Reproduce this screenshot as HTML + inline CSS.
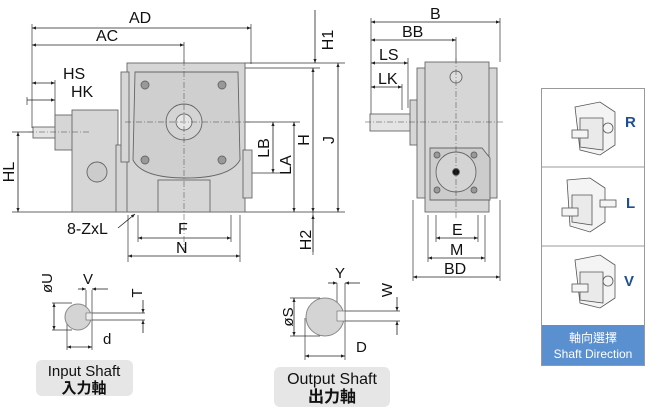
<!DOCTYPE html>
<html><head><meta charset="utf-8">
<style>
html,body{margin:0;padding:0;background:#fff;}
svg{display:block;}
text{font-family:"Liberation Sans","Noto Sans CJK TC",sans-serif;fill:#111;}
</style></head>
<body>
<svg width="660" height="417" viewBox="0 0 660 417" xmlns="http://www.w3.org/2000/svg">
<defs>
<marker id="a" viewBox="0 0 10 10" refX="10" refY="5" markerWidth="7" markerHeight="5" orient="auto-start-reverse"><path d="M0,1 L10,5 L0,9z" fill="#222"/></marker>
</defs>
<g stroke="#333" stroke-width="0.7" fill="none">
<line x1="32" y1="24" x2="32" y2="128"/>
<line x1="251" y1="24" x2="251" y2="64"/>
<line x1="184" y1="42" x2="184" y2="64"/>
<line x1="55" y1="80" x2="55" y2="126"/>
<line x1="27" y1="97" x2="27" y2="105"/>
<line x1="245" y1="63" x2="345" y2="63"/>
<line x1="245" y1="68" x2="320" y2="68"/>
<line x1="12" y1="212" x2="345" y2="212"/>
<line x1="12" y1="132" x2="35" y2="132"/>
<line x1="245" y1="122" x2="300" y2="122"/>
<line x1="245" y1="173" x2="280" y2="173"/>
<line x1="128" y1="215" x2="128" y2="262"/>
<line x1="138" y1="215" x2="138" y2="242"/>
<line x1="231" y1="215" x2="231" y2="242"/>
<line x1="240" y1="215" x2="240" y2="262"/>
<line x1="313" y1="212" x2="313" y2="255"/>
</g>
<g stroke="#222" stroke-width="0.8" fill="none">
<line x1="32" y1="28" x2="251" y2="28" marker-start="url(#a)" marker-end="url(#a)"/>
<line x1="32" y1="45" x2="184" y2="45" marker-start="url(#a)" marker-end="url(#a)"/>
<line x1="32" y1="83" x2="55" y2="83" marker-start="url(#a)" marker-end="url(#a)"/>
<line x1="27" y1="100" x2="55" y2="100" marker-end="url(#a)"/>
<line x1="18" y1="132" x2="18" y2="212" marker-start="url(#a)" marker-end="url(#a)"/>
<line x1="315" y1="10" x2="315" y2="63" marker-end="url(#a)"/>
<line x1="313" y1="68" x2="313" y2="212" marker-start="url(#a)" marker-end="url(#a)"/>
<line x1="338" y1="63" x2="338" y2="212" marker-start="url(#a)" marker-end="url(#a)"/>
<line x1="273" y1="122" x2="273" y2="173" marker-start="url(#a)" marker-end="url(#a)"/>
<line x1="294" y1="122" x2="294" y2="212" marker-start="url(#a)" marker-end="url(#a)"/>
<line x1="313" y1="215" x2="313" y2="252" marker-start="url(#a)"/>
<line x1="138" y1="238" x2="231" y2="238" marker-start="url(#a)" marker-end="url(#a)"/>
<line x1="128" y1="256" x2="240" y2="256" marker-start="url(#a)" marker-end="url(#a)"/>
<line x1="118" y1="228" x2="135" y2="214" marker-end="url(#a)"/>
</g>
<g font-size="16">
<text x="129" y="23">AD</text>
<text x="96" y="41">AC</text>
<text x="63" y="79">HS</text>
<text x="71" y="97">HK</text>
<text x="67" y="234">8-ZxL</text>
<text x="178" y="234">F</text>
<text x="176" y="253">N</text>
<text transform="translate(14,172) rotate(-90)" text-anchor="middle">HL</text>
<text transform="translate(333,40) rotate(-90)" text-anchor="middle">H1</text>
<text transform="translate(309,140) rotate(-90)" text-anchor="middle">H</text>
<text transform="translate(269,148) rotate(-90)" text-anchor="middle">LB</text>
<text transform="translate(291,165) rotate(-90)" text-anchor="middle">LA</text>
<text transform="translate(311,240) rotate(-90)" text-anchor="middle">H2</text>
<text transform="translate(334,140) rotate(-90)" text-anchor="middle">J</text>
</g>
<g stroke="#666" stroke-width="0.9" fill="#d6d6d6">
<rect x="33" y="127" width="24" height="11" fill="#e4e4e4"/>
<rect x="55" y="115" width="20" height="35"/>
<rect x="72" y="110" width="46" height="102"/>
<rect x="116" y="145" width="12" height="67"/>
<rect x="127" y="63" width="118" height="149"/>
<rect x="121" y="72" width="8" height="90"/>
<rect x="243" y="150" width="9" height="48"/>
<path d="M135,72 L238,72 L240,160 Q230,178 186,178 Q142,178 133,160 Z" fill="#cfcfcf"/>
<circle cx="97" cy="172" r="10" fill="#cccccc"/>
<circle cx="184" cy="122" r="18" fill="#d4d4d4"/>
<circle cx="184" cy="122" r="8" fill="#e6e6e6"/>
<circle cx="145" cy="85" r="4" fill="#999"/>
<circle cx="222" cy="85" r="4" fill="#999"/>
<circle cx="145" cy="160" r="4" fill="#999"/>
<circle cx="222" cy="160" r="4" fill="#999"/>
<rect x="158" y="180" width="52" height="32" fill="#d6d6d6"/>
</g>
<g stroke="#444" stroke-width="0.5" stroke-dasharray="6,2,1,2" fill="none">
<line x1="184" y1="60" x2="184" y2="250"/>
<line x1="125" y1="122" x2="250" y2="122"/>
<line x1="28" y1="132" x2="90" y2="132"/>
</g>
<g stroke="#333" stroke-width="0.7" fill="none">
<line x1="371" y1="18" x2="371" y2="115"/>
<line x1="500" y1="18" x2="500" y2="62"/>
<line x1="456" y1="37" x2="456" y2="62"/>
<line x1="408" y1="58" x2="408" y2="108"/>
<line x1="402" y1="84" x2="402" y2="110"/>
<line x1="436" y1="215" x2="436" y2="242"/>
<line x1="478" y1="215" x2="478" y2="242"/>
<line x1="428" y1="215" x2="428" y2="262"/>
<line x1="485" y1="215" x2="485" y2="262"/>
<line x1="413" y1="200" x2="413" y2="281"/>
<line x1="500" y1="200" x2="500" y2="281"/>
</g>
<g stroke="#222" stroke-width="0.8" fill="none">
<line x1="371" y1="22" x2="500" y2="22" marker-start="url(#a)" marker-end="url(#a)"/>
<line x1="371" y1="40" x2="456" y2="40" marker-start="url(#a)" marker-end="url(#a)"/>
<line x1="371" y1="63" x2="408" y2="63" marker-start="url(#a)" marker-end="url(#a)"/>
<line x1="371" y1="87" x2="402" y2="87" marker-start="url(#a)" marker-end="url(#a)"/>
<line x1="436" y1="238" x2="478" y2="238" marker-start="url(#a)" marker-end="url(#a)"/>
<line x1="428" y1="258" x2="485" y2="258" marker-start="url(#a)" marker-end="url(#a)"/>
<line x1="413" y1="277" x2="500" y2="277" marker-start="url(#a)" marker-end="url(#a)"/>
</g>
<g font-size="16">
<text x="430" y="19">B</text>
<text x="402" y="37">BB</text>
<text x="379" y="60">LS</text>
<text x="378" y="84">LK</text>
<text x="452" y="235">E</text>
<text x="450" y="255">M</text>
<text x="444" y="274">BD</text>
</g>
<g stroke="#666" stroke-width="0.9" fill="#d6d6d6">
<rect x="370" y="114" width="42" height="17" fill="#e4e4e4"/>
<rect x="410" y="100" width="10" height="45"/>
<rect x="417" y="68" width="80" height="130"/>
<rect x="425" y="62" width="64" height="150"/>
<path d="M430,148 L482,148 L490,158 L490,200 L430,200 Z" fill="#cccccc"/>
<circle cx="456" cy="172" r="20" fill="#d4d4d4"/>
<circle cx="456" cy="172" r="3.5" fill="#111"/>
<circle cx="437" cy="155" r="3" fill="#999"/>
<circle cx="474" cy="155" r="3" fill="#999"/>
<circle cx="437" cy="190" r="3" fill="#999"/>
<circle cx="474" cy="190" r="3" fill="#999"/>
<circle cx="456" cy="77" r="6" fill="#ddd"/>
</g>
<g stroke="#444" stroke-width="0.5" stroke-dasharray="6,2,1,2" fill="none">
<line x1="456" y1="58" x2="456" y2="220"/>
<line x1="365" y1="122" x2="505" y2="122"/>
</g>
<rect x="541.5" y="88.5" width="103" height="277" fill="#fff" stroke="#999"/>
<line x1="541" y1="167" x2="645" y2="167" stroke="#999"/>
<line x1="541" y1="246" x2="645" y2="246" stroke="#999"/>
<rect x="542" y="325" width="102" height="40" fill="#5a8fd0"/>
<text x="593" y="342" font-size="12" text-anchor="middle" style="fill:#fff">軸向選擇</text>
<text x="593" y="358" font-size="12" text-anchor="middle" style="fill:#fff">Shaft Direction</text>
<g font-size="15" font-weight="bold">
<text x="625" y="127" style="fill:#1f4f8f">R</text>
<text x="626" y="208" style="fill:#1f4f8f">L</text>
<text x="624" y="286" style="fill:#1f4f8f">V</text>
</g>
<g stroke="#555" stroke-width="0.8" fill="#f4f4f4">
<path d="M575,107 L600,102 L615,112 L615,145 L600,155 L580,150 Z"/>
<path d="M580,118 L603,118 L603,150 L580,147 Z" fill="#eaeaea"/>
<circle cx="608" cy="128" r="5"/>
<rect x="572" y="130" width="16" height="8"/>
<path d="M567,180 L590,178 L605,188 L605,222 L590,232 L570,226 Z"/>
<path d="M572,195 L592,195 L592,225 L572,222 Z" fill="#eaeaea"/>
<rect x="562" y="208" width="16" height="8"/>
<rect x="600" y="200" width="16" height="7"/>
<path d="M575,260 L600,255 L615,265 L615,298 L600,308 L580,303 Z"/>
<path d="M580,272 L603,272 L603,303 L580,300 Z" fill="#eaeaea"/>
<circle cx="608" cy="281" r="5"/>
<rect x="572" y="284" width="16" height="8"/>
</g>
<g stroke="#333" stroke-width="0.7" fill="none">
<line x1="52" y1="303" x2="72" y2="303"/>
<line x1="52" y1="330" x2="72" y2="330"/>
<line x1="67" y1="315" x2="67" y2="350"/>
<line x1="92" y1="290" x2="92" y2="350"/>
<line x1="86" y1="290" x2="86" y2="320"/>
<line x1="92" y1="313" x2="145" y2="313"/>
<line x1="92" y1="320" x2="145" y2="320"/>
</g>
<g stroke="#222" stroke-width="0.8" fill="none">
<line x1="54" y1="303" x2="54" y2="330" marker-start="url(#a)" marker-end="url(#a)"/>
<line x1="78" y1="289" x2="86" y2="289" marker-end="url(#a)"/>
<line x1="108" y1="289" x2="92" y2="289" marker-end="url(#a)"/>
<line x1="143" y1="300" x2="143" y2="313" marker-end="url(#a)"/>
<line x1="143" y1="333" x2="143" y2="320" marker-end="url(#a)"/>
<line x1="67" y1="347" x2="92" y2="347" marker-start="url(#a)" marker-end="url(#a)"/>
</g>
<circle cx="78" cy="317" r="13" fill="#d4d4d4" stroke="#888"/>
<rect x="86" y="313" width="6" height="7" fill="#eee" stroke="#666" stroke-width="0.6"/>
<g font-size="15">
<text transform="translate(52,283) rotate(-90)" text-anchor="middle">øU</text>
<text x="83" y="284">V</text>
<text transform="translate(142,293) rotate(-90)" text-anchor="middle">T</text>
<text x="103" y="344">d</text>
</g>
<rect x="36" y="360" width="97" height="36" rx="6" fill="#e6e6e6"/>
<text x="84" y="376" font-size="15" text-anchor="middle">Input Shaft</text>
<text x="84" y="393" font-size="15" text-anchor="middle" font-weight="bold">入力軸</text>
<g stroke="#333" stroke-width="0.7" fill="none">
<line x1="290" y1="298" x2="320" y2="298"/>
<line x1="290" y1="336" x2="320" y2="336"/>
<line x1="305" y1="318" x2="305" y2="360"/>
<line x1="345" y1="283" x2="345" y2="360"/>
<line x1="337" y1="283" x2="337" y2="318"/>
<line x1="345" y1="311" x2="400" y2="311"/>
<line x1="345" y1="321" x2="400" y2="321"/>
</g>
<g stroke="#222" stroke-width="0.8" fill="none">
<line x1="294" y1="298" x2="294" y2="336" marker-start="url(#a)" marker-end="url(#a)"/>
<line x1="328" y1="283" x2="337" y2="283" marker-end="url(#a)"/>
<line x1="360" y1="283" x2="345" y2="283" marker-end="url(#a)"/>
<line x1="397" y1="297" x2="397" y2="311" marker-end="url(#a)"/>
<line x1="397" y1="335" x2="397" y2="321" marker-end="url(#a)"/>
<line x1="305" y1="356" x2="345" y2="356" marker-start="url(#a)" marker-end="url(#a)"/>
</g>
<circle cx="325" cy="317" r="19" fill="#d4d4d4" stroke="#888"/>
<rect x="337" y="311" width="8" height="10" fill="#eee" stroke="#666" stroke-width="0.6"/>
<g font-size="15">
<text transform="translate(293,317) rotate(-90)" text-anchor="middle">øS</text>
<text x="335" y="278">Y</text>
<text transform="translate(392,290) rotate(-90)" text-anchor="middle">W</text>
<text x="356" y="352">D</text>
</g>
<rect x="274" y="367" width="116" height="40" rx="6" fill="#e6e6e6"/>
<text x="332" y="384" font-size="16" text-anchor="middle">Output Shaft</text>
<text x="332" y="402" font-size="16" text-anchor="middle" font-weight="bold">出力軸</text>
</svg>
</body></html>
